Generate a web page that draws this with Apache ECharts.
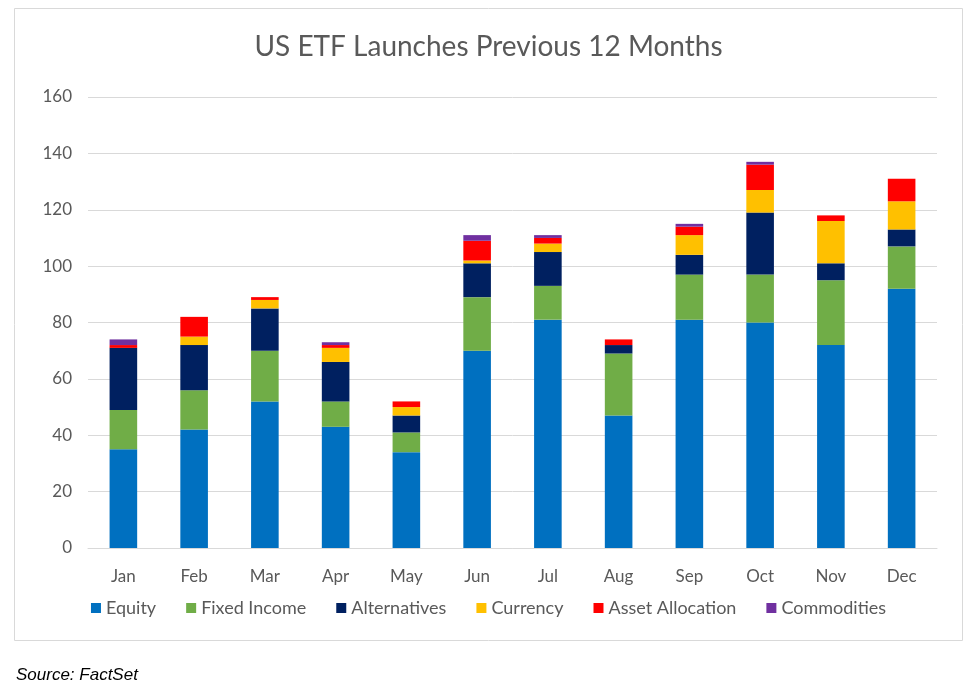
<!DOCTYPE html>
<html><head><meta charset="utf-8">
<script src="https://cdn.jsdelivr.net/npm/echarts@6/dist/echarts.min.js"></script>
<style>html,body{margin:0;padding:0;background:#fff}#c{width:977px;height:689px}</style>
</head><body><div id="c"></div>
<script>
var months = ['Jan','Feb','Mar','Apr','May','Jun','Jul','Aug','Sep','Oct','Nov','Dec'];
var equity      = [35, 42, 52, 43, 34, 70, 81, 47, 81, 80, 72, 92];
var fixedIncome = [14, 14, 18,  9,  7, 19, 12, 22, 16, 17, 23, 15];
var alternatives= [22, 16, 15, 14,  6, 12, 12,  3,  7, 22,  6,  6];
var currency    = [ 0,  3,  3,  5,  3,  1,  3,  0,  7,  8, 15, 10];
var assetAlloc  = [ 1,  7,  1,  1,  2,  7,  2,  2,  3,  9,  2,  8];
var commodities = [ 2,  0,  0,  1,  0,  2,  1,  0,  1,  1,  0,  0];
var yTicks = [0, 20, 40, 60, 80, 100, 120, 140, 160];

var font = 'Lato, "Open Sans", sans-serif';
var names = ['Equity','Fixed Income','Alternatives','Currency','Asset Allocation','Commodities'];
var colors = ['#0070C0','#70AD47','#002060','#FFC000','#FF0000','#7030A0'];
var datas = [equity, fixedIncome, alternatives, currency, assetAlloc, commodities];

var chart = echarts.init(document.getElementById('c'));
chart.setOption({
  animation: false,
  color: colors,
  title: {
    text: 'US ETF Launches Previous 12 Months',
    left: 'center', top: 28,
    textStyle: { fontFamily: font, fontSize: 28, fontWeight: 'normal', color: '#595959' }
  },
  legend: {
    data: names, bottom: 67, left: 'center',
    itemWidth: 10, itemHeight: 10, itemGap: 30, icon: 'rect',
    textStyle: { fontFamily: font, fontSize: 18, color: '#595959' }
  },
  grid: { left: 88, right: 40, top: 97, bottom: 141 },
  xAxis: {
    type: 'category', data: months,
    axisLine: { lineStyle: { color: '#d9d9d9', width: 1 } },
    axisTick: { show: false },
    axisLabel: { fontFamily: font, fontSize: 17, color: '#595959', margin: 20 }
  },
  yAxis: {
    type: 'value', min: yTicks[0], max: yTicks[yTicks.length-1], interval: 20,
    axisLine: { show: false }, axisTick: { show: false },
    splitLine: { lineStyle: { color: '#d9d9d9', width: 1 } },
    axisLabel: { fontFamily: font, fontSize: 17, color: '#595959', margin: 16 }
  },
  series: names.map(function(n, i){
    return { name: n, type: 'bar', stack: 'total', data: datas[i], barWidth: '39%',
      itemStyle: { color: colors[i] } };
  }),
  graphic: [
    { type: 'rect', shape: { x: 14.5, y: 8.5, width: 948, height: 632 },
      style: { fill: 'none', stroke: '#d9d9d9', lineWidth: 1 }, silent: true },
    { type: 'text', left: 16, top: 667,
      style: { text: 'Source: FactSet', fontFamily: 'Liberation Sans, Arial, sans-serif',
        fontStyle: 'italic', fontSize: 17, fill: '#000' } }
  ]
});
</script></body></html>
